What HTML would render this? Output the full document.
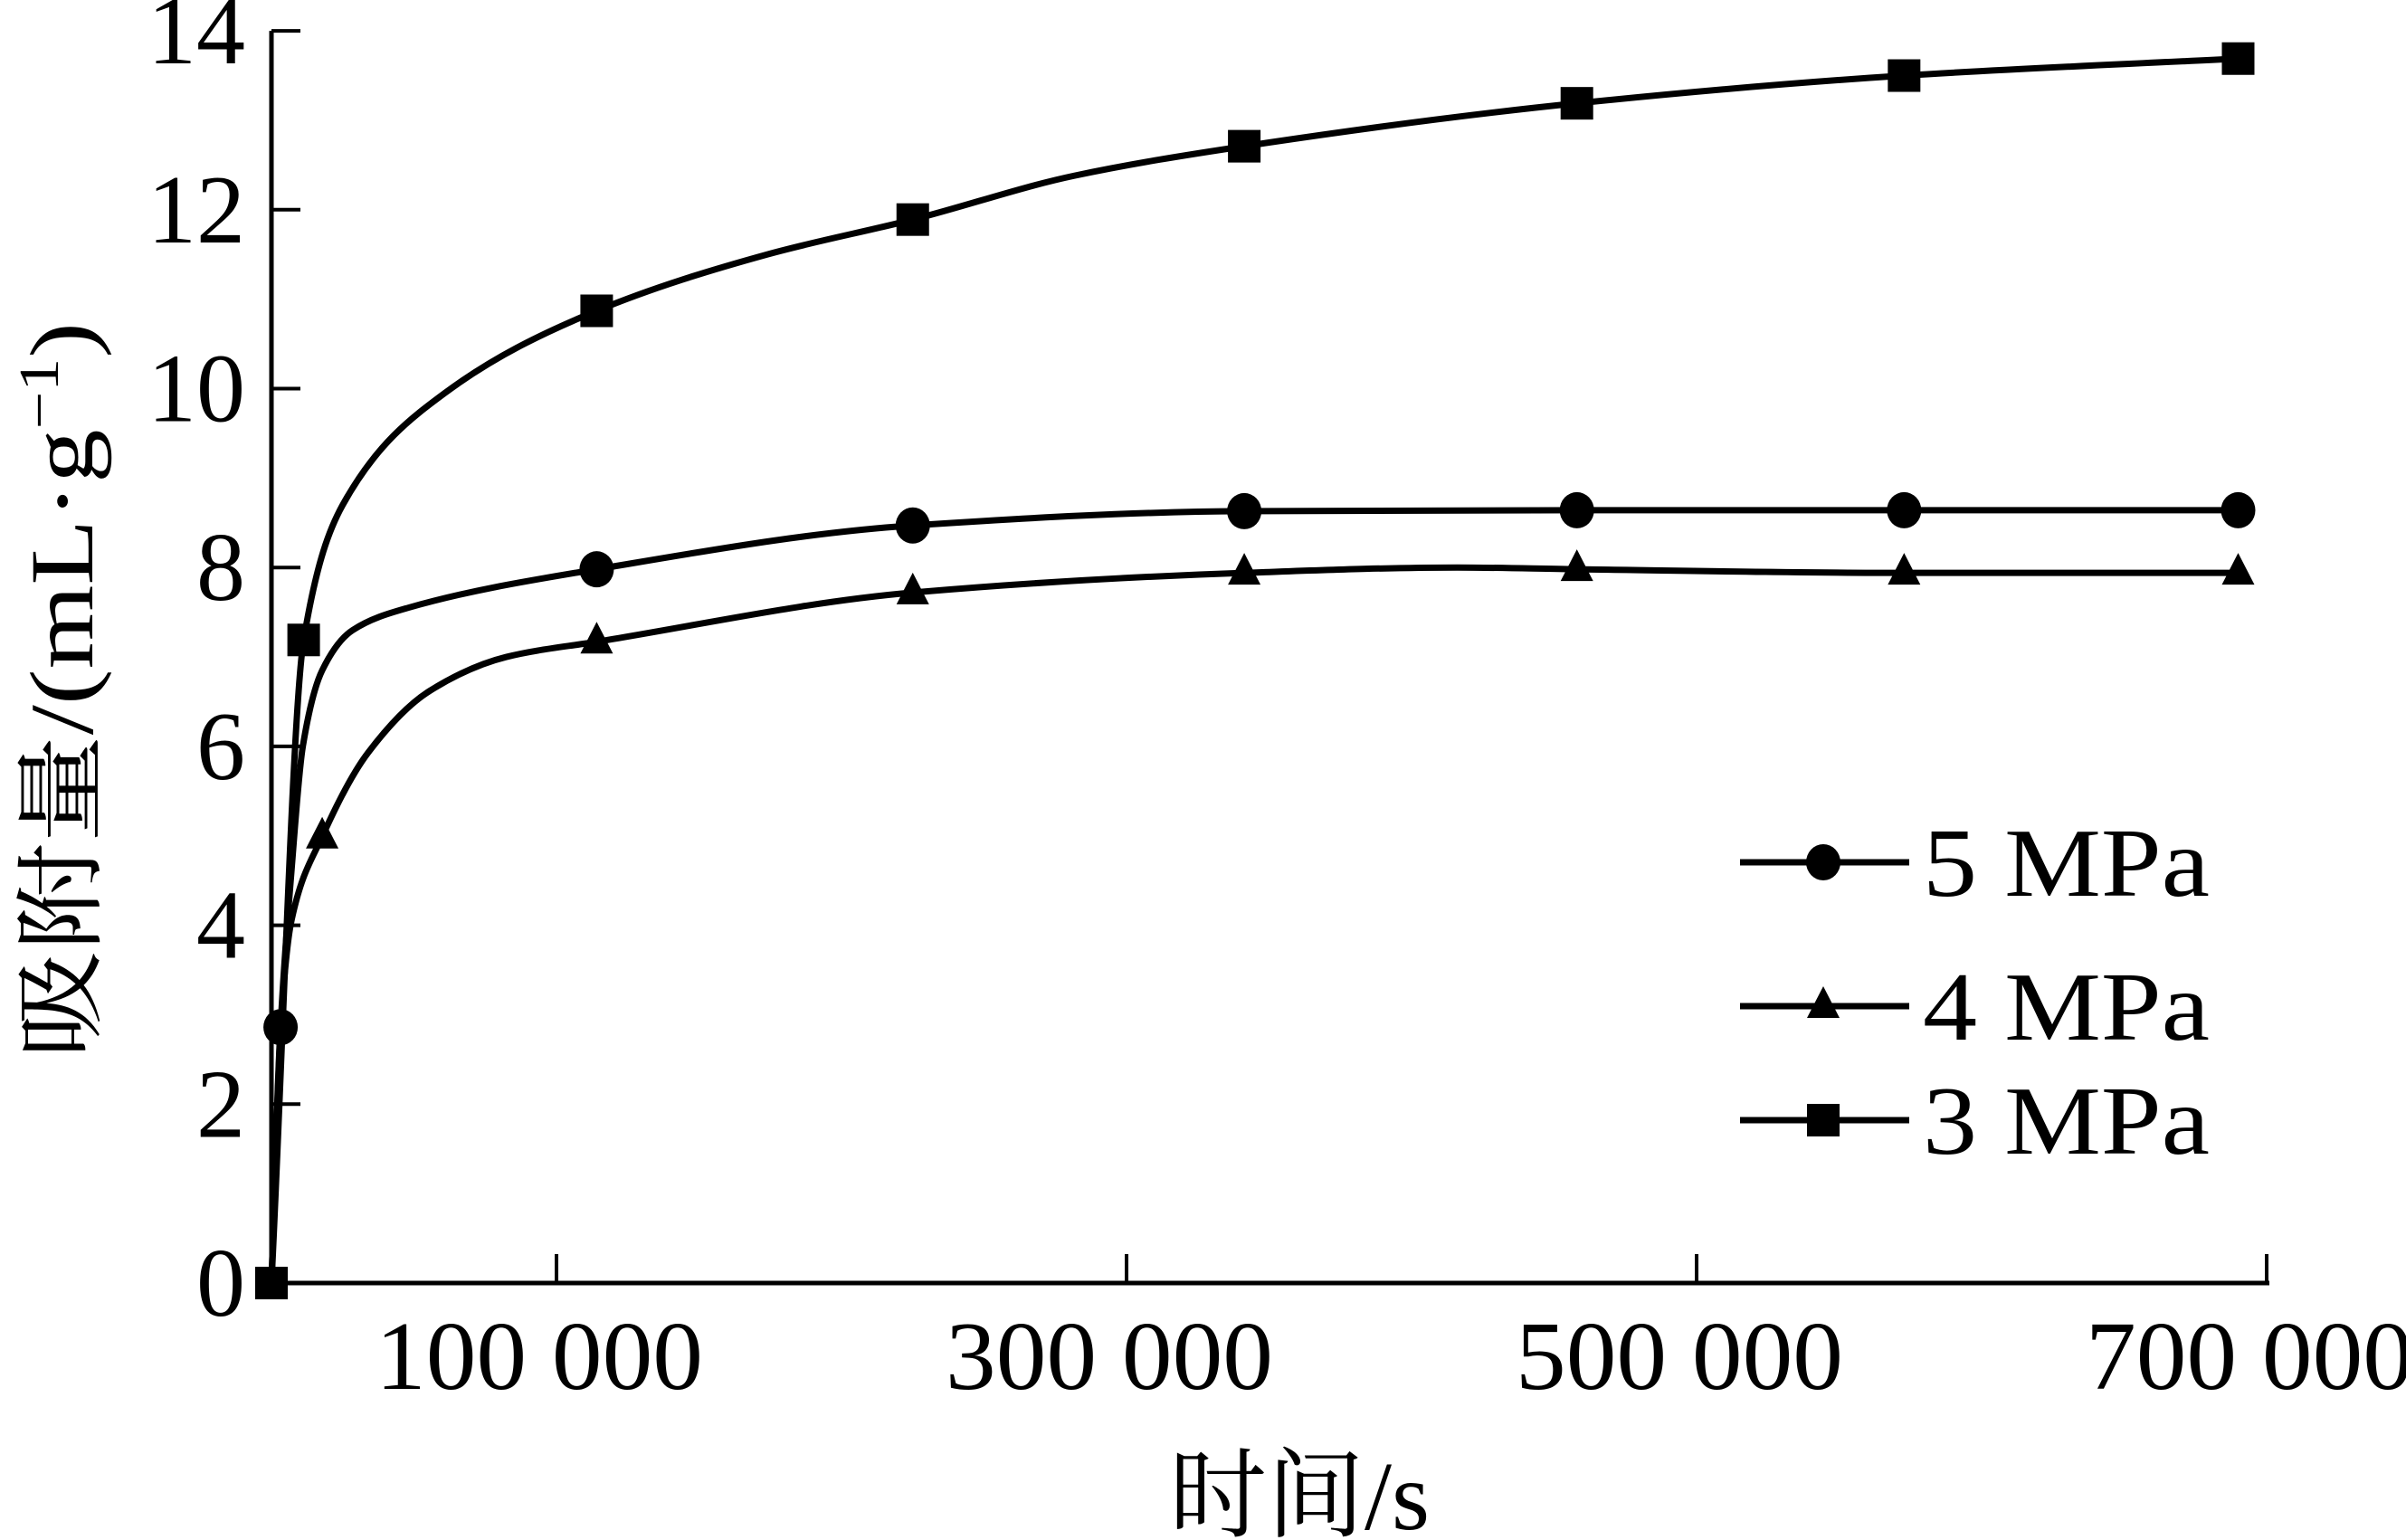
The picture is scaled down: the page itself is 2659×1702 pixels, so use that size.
<!DOCTYPE html>
<html><head><meta charset="utf-8"><style>
html,body{margin:0;padding:0;background:#fff;}
svg{display:block;font-family:"Liberation Serif","Noto Serif CJK SC",serif;}
</style></head><body>
<svg id="chart" width="2659" height="1702" viewBox="0 0 2659 1702" xmlns="http://www.w3.org/2000/svg">
<g id="axes"></g>
<g id="series"></g>
<g id="legend"></g>
</svg>
<script>
const xTicks = [100000, 300000, 500000, 700000];
const xTickLabels = ["100 000", "300 000", "500 000", "700 000"];
const yTicks = [0, 2, 4, 6, 8, 10, 12, 14];
const yTickLabels = ["0", "2", "4", "6", "8", "10", "12", "14"];
const seriesNames = ["5 MPa", "4 MPa", "3 MPa"];
const markerTypes = ["circle", "triangle", "square"];
// measured points
const x5 = [3200, 114100, 225000, 341300, 458000, 572800, 690000];
const y5 = [2.86, 7.98, 8.47, 8.63, 8.64, 8.64, 8.64];
const x4 = [17800, 114100, 225000, 341300, 458000, 572800, 690000];
const y4 = [4.99, 7.17, 7.72, 7.94, 7.98, 7.94, 7.94];
const x3 = [0, 11300, 114100, 225000, 341300, 458000, 572800, 690000];
const y3 = [0, 7.19, 10.87, 11.89, 12.71, 13.19, 13.5, 13.69];
// curve traces
const cx5 = [0, 3200, 7000, 11000, 17800, 28500, 48000, 114100, 225000, 341300, 458000, 572800, 690000];
const cy5 = [0, 2.86, 4.6, 6.0, 6.85, 7.3, 7.55, 7.98, 8.47, 8.63, 8.64, 8.64, 8.64];
const cx4 = [0, 3200, 7000, 17800, 33900, 55500, 82400, 114100, 225000, 341300, 416000, 458000, 572800, 690000];
const cy4 = [0, 2.86, 4.05, 4.99, 5.93, 6.62, 7.0, 7.17, 7.72, 7.94, 8.0, 7.98, 7.94, 7.94];
const cx3 = [0, 11300, 25000, 60800, 114100, 173900, 225000, 281600, 341300, 458000, 572800, 690000];
const cy3 = [0, 7.19, 8.7, 9.95, 10.87, 11.5, 11.89, 12.38, 12.71, 13.19, 13.5, 13.69];

const NS = "http://www.w3.org/2000/svg";
const X0 = 300, XPX = 315 / 100000, Y0 = 1418, YPX = 98.85;
function sx(v){ return X0 + v * XPX; }
function sy(v){ return Y0 - v * YPX; }
function mk(tag, attrs, parent){
  const e = document.createElementNS(NS, tag);
  for (const k in attrs) e.setAttribute(k, attrs[k]);
  parent.appendChild(e); return e;
}
const axes = document.getElementById("axes");
const ser = document.getElementById("series");
const leg = document.getElementById("legend");

let e = mk("line", {x1: X0, y1: sy(14), x2: X0, y2: Y0 + 2, stroke: "#000", "stroke-width": 5}, axes);


e = mk("line", {x1: X0 - 2, y1: Y0, x2: sx(700000) + 3, y2: Y0, stroke: "#000", "stroke-width": 5}, axes);



yTicks.forEach((v, i) => {
  if (v > 0) {
    const t = mk("line", {x1: X0, y1: sy(v), x2: X0 + 32, y2: sy(v), stroke: "#000", "stroke-width": 4}, axes);
    
    
  }
  const l = mk("text", {x: 271, y: sy(v) + 36, "text-anchor": "end", "font-size": 108}, axes);
  l.textContent = yTickLabels[i];
  
  
});
xTicks.forEach((v, i) => {
  const t = mk("line", {x1: sx(v), y1: Y0, x2: sx(v), y2: Y0 - 32, stroke: "#000", "stroke-width": 4}, axes);
  
  
  const l = mk("text", {x: sx(v) - 19, y: 1535, "text-anchor": "middle", "font-size": 108, textLength: 362, lengthAdjust: "spacingAndGlyphs"}, axes);
  l.textContent = xTickLabels[i];
  
  
});
e = mk("text", {x: 1436, y: 1690, "text-anchor": "middle", "font-size": 108}, axes);
e.textContent = "时间/s";


e = mk("text", {x: 0, y: 0, "text-anchor": "middle", "font-size": 100, transform: "translate(102,763) rotate(-90)", textLength: 814, lengthAdjust: "spacingAndGlyphs"}, axes);
e.innerHTML = "吸附量/(mL·g<tspan font-size='62' dy='-38'>−1</tspan><tspan dy='38'>)</tspan>";



// monotone cubic (Fritsch-Carlson) in pixel space
function pathFrom(xs, ys){
  const p = xs.map((x, i) => [sx(x), sy(ys[i])]);
  const n = p.length, d = [], m = new Array(n);
  for (let i = 0; i < n - 1; i++) d.push((p[i+1][1] - p[i][1]) / (p[i+1][0] - p[i][0]));
  m[0] = d[0]; m[n-1] = d[n-2];
  for (let i = 1; i < n - 1; i++) {
    if (d[i-1] * d[i] <= 0) m[i] = 0;
    else {
      const h0 = p[i][0] - p[i-1][0], h1 = p[i+1][0] - p[i][0];
      const w1 = 2*h1 + h0, w2 = h1 + 2*h0;
      m[i] = (w1 + w2) / (w1 / d[i-1] + w2 / d[i]);
    }
  }
  let s = "M" + p[0][0] + "," + p[0][1];
  for (let i = 0; i < n - 1; i++) {
    const h = (p[i+1][0] - p[i][0]) / 3;
    s += " C" + (p[i][0] + h) + "," + (p[i][1] + m[i]*h) + " " + (p[i+1][0] - h) + "," + (p[i+1][1] - m[i+1]*h) + " " + p[i+1][0] + "," + p[i+1][1];
  }
  return s;
}
function marker(type, x, y, g){
  let m;
  if (type === "circle") m = mk("ellipse", {cx: x, cy: y, rx: 19, ry: 20, fill: "#000"}, g);
  else if (type === "triangle") m = mk("polygon", {points: `${x},${y-22} ${x-18},${y+13} ${x+18},${y+13}`, fill: "#000"}, g);
  else m = mk("rect", {x: x - 18, y: y - 18, width: 36, height: 36, fill: "#000"}, g);
  return m;
}
const curves = [[cx5, cy5, x5, y5], [cx4, cy4, x4, y4], [cx3, cy3, x3, y3]];
const serNames = ["series-5mpa", "series-4mpa", "series-3mpa"];
curves.forEach((c, k) => {
  const g = mk("g", {}, ser);
  
  
  const p = mk("path", {d: pathFrom(c[0], c[1]), fill: "none", stroke: "#000", "stroke-width": 7, "stroke-linejoin": "round"}, g);
  
  
  c[2].forEach((x, i) => {
    const m = marker(markerTypes[k], sx(x), sy(c[3][i]), g);
    
    
  });
});
const legY = [953, 1112, 1238];
seriesNames.forEach((n, k) => {
  const g = mk("g", {}, leg);
  
  
  const l = mk("line", {x1: 1923, y1: legY[k], x2: 2110, y2: legY[k], stroke: "#000", "stroke-width": 7}, g);
  
  
  const m = marker(markerTypes[k], 2015, legY[k], g);
  
  
  const t = mk("text", {x: 2125, y: legY[k] + 37, "font-size": 108, textLength: 317, lengthAdjust: "spacingAndGlyphs"}, g);
  t.textContent = n;
  
  
});
</script>
</body></html>
